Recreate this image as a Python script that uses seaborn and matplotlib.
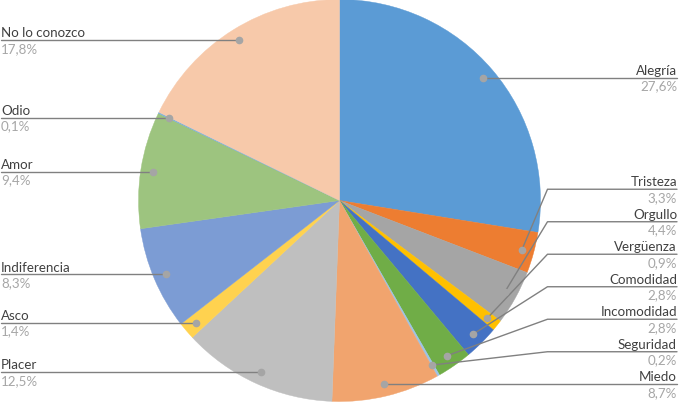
import numpy as np
import matplotlib
matplotlib.use("Agg")
import matplotlib.pyplot as plt
import seaborn as sns

categories = ["Alegría", "Tristeza", "Orgullo", "Vergüenza", "Comodidad",
              "Incomodidad", "Seguridad", "Miedo", "Placer", "Asco",
              "Indiferencia", "Amor", "Odio", "No lo conozco"]
values = [27.6, 3.3, 4.4, 0.9, 2.8, 2.8, 0.2, 8.7, 12.5, 1.4, 8.3, 9.4, 0.1, 17.8]
colors = ["#5B9BD5", "#ED7D31", "#A5A5A5", "#FFC000", "#4472C4", "#70AD47",
          "#9DC3E6", "#F1A46E", "#BFBFBF", "#FFD24F", "#7C9CD4", "#9DC47F",
          "#7CAFDD", "#F7C9AA"]
pct_labels = [f"{v:.1f}%".replace(".", ",") for v in values]

sns.set_theme(style="white")
plt.rcParams["font.family"] = ["Lato", "DejaVu Sans"]

W, H = 680, 403
fig = plt.figure(figsize=(6.8, 4.03), dpi=100)
ax = fig.add_axes([0, 0, 1, 1])
cx, cy, R = 339.5, H - 200.5, 201

wedges, _ = ax.pie(values, colors=colors, startangle=90, counterclock=False,
                   center=(cx, cy), radius=R, wedgeprops=dict(linewidth=0))
for w in wedges:
    w.set_edgecolor(w.get_facecolor())
    w.set_linewidth(0.3)

ax.set_xlim(0, W)
ax.set_ylim(0, H)
ax.set_aspect("equal")
ax.axis("off")

name_color = "#404040"
pct_color = "#A6A6A6"
line_color = "#808080"
dot_color = "#A5A5A5"
fs = 9.6
spacing = 32.5
x_left = 0.5
x_right = 677
kink = cx + R + 7

pts = []
for i, w in enumerate(wedges):
    mid = np.deg2rad((w.theta1 + w.theta2) / 2)
    px = cx + 0.94 * R * np.cos(mid)
    py = cy + 0.94 * R * np.sin(mid)
    pts.append((i, px, py))

def layout(items, bottom):
    items = sorted(items, key=lambda t: t[2])
    out = []
    prev = None
    for i, px, py in items:
        ly = max(py, bottom) if prev is None else max(py, prev + spacing)
        out.append((i, px, py, ly))
        prev = ly
    return out

right = layout([p for p in pts if p[1] > cx], H - 386)
left = layout([p for p in pts if p[1] <= cx], 0)

for i, px, py, ly in right:
    if abs(ly - py) < 1.5:
        ax.plot([px, x_right], [py, ly], color=line_color, lw=1.0, zorder=3)
    else:
        ax.plot([px, kink, x_right], [py, ly, ly], color=line_color, lw=1.0, zorder=3)
    ax.plot(px, py, "o", ms=4.5, color=dot_color, zorder=4)
    ax.text(x_right, ly + 0.8, categories[i], ha="right", va="bottom",
            fontsize=fs, color=name_color)
    ax.text(x_right, ly - 2.5, pct_labels[i], ha="right", va="top",
            fontsize=fs, color=pct_color)

for i, px, py, ly in left:
    ax.plot([x_left, px], [ly, py], color=line_color, lw=1.0, zorder=3)
    ax.plot(px, py, "o", ms=4.5, color=dot_color, zorder=4)
    ax.text(x_left + 0.5, ly + 0.8, categories[i], ha="left", va="bottom",
            fontsize=fs, color=name_color)
    ax.text(x_left + 0.5, ly - 2.5, pct_labels[i], ha="left", va="top",
            fontsize=fs, color=pct_color)

fig.savefig("out.png", dpi=100)
